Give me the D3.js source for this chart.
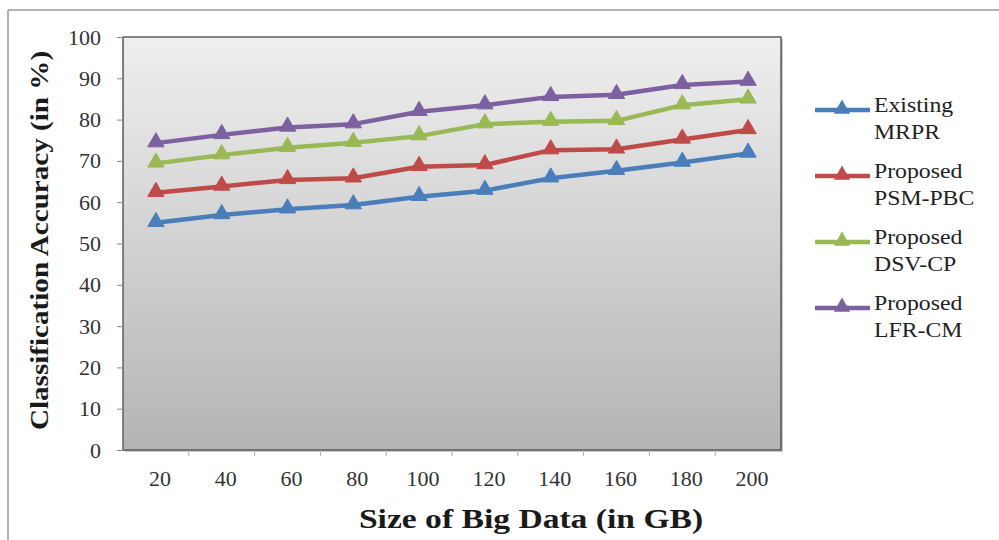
<!DOCTYPE html>
<html>
<head>
<meta charset="utf-8">
<script src="https://cdn.jsdelivr.net/npm/d3@7"></script>
<style>
  body { margin: 0; background: #fff; }
  text { font-family: "Liberation Serif", "Times New Roman", serif; }
</style>
</head>
<body>
<div id="chart"></div>
<script>
const sizes = ["20", "40", "60", "80", "100", "120", "140", "160", "180", "200"];
const yTicks = [0, 10, 20, 30, 40, 50, 60, 70, 80, 90, 100];

const existingMRPR = [55.0, 56.9, 58.3, 59.3, 61.3, 62.8, 65.8, 67.6, 69.6, 71.8];
const proposedPSMPBC = [62.3, 63.8, 65.4, 65.8, 68.6, 69.0, 72.6, 72.8, 75.2, 77.5];
const proposedDSVCP = [69.4, 71.4, 73.2, 74.4, 76.0, 78.9, 79.5, 79.7, 83.5, 84.9];
const proposedLFRCM = [74.3, 76.3, 78.1, 78.9, 81.9, 83.5, 85.5, 86.0, 88.4, 89.2];

const series = [
  { name: ["Existing", "MRPR"], values: existingMRPR, color: "#4a7ebb" },
  { name: ["Proposed", "PSM-PBC"], values: proposedPSMPBC, color: "#be4b48" },
  { name: ["Proposed", "DSV-CP"], values: proposedDSVCP, color: "#98b954" },
  { name: ["Proposed", "LFR-CM"], values: proposedLFRCM, color: "#7d60a0" },
];

const width = 999, height = 540;
const plot = { left: 123, top: 37, right: 781, bottom: 450 };

const svg = d3.select("#chart").append("svg").attr("width", width).attr("height", height);

// outer frame of the figure
svg.append("line").attr("x1", 8).attr("x2", width).attr("y1", 10).attr("y2", 10)
  .attr("stroke", "#9a9a9a").attr("stroke-width", 1.5);
svg.append("line").attr("x1", 8).attr("x2", 8).attr("y1", 10).attr("y2", height)
  .attr("stroke", "#9a9a9a").attr("stroke-width", 1.5);

const defs = svg.append("defs");
const grad = defs.append("linearGradient").attr("id", "bg").attr("x1", 0).attr("y1", 0).attr("x2", 0).attr("y2", 1);
grad.append("stop").attr("offset", "0%").attr("stop-color", "#efefef");
grad.append("stop").attr("offset", "100%").attr("stop-color", "#b4b4b4");

const x = d3.scaleBand().domain(sizes).range([plot.left, plot.right]);
const y = d3.scaleLinear().domain([0, 100]).range([plot.bottom, plot.top]);

// plot area with slight shadow
svg.append("rect")
  .attr("x", plot.left + 2).attr("y", plot.top + 2)
  .attr("width", plot.right - plot.left).attr("height", plot.bottom - plot.top)
  .attr("fill", "#c8c8c8");
svg.append("rect")
  .attr("x", plot.left).attr("y", plot.top)
  .attr("width", plot.right - plot.left).attr("height", plot.bottom - plot.top)
  .attr("fill", "url(#bg)").attr("stroke", "#3a3a3a").attr("stroke-width", 1.2);

// y axis
const yAxis = svg.append("g").attr("transform", `translate(${plot.left},0)`)
  .call(d3.axisLeft(y).tickValues(yTicks).tickSize(6).tickPadding(16));
yAxis.select(".domain").attr("stroke", "#777");
yAxis.selectAll(".tick line").attr("stroke", "#888");
yAxis.selectAll(".tick text").attr("font-size", 22).attr("fill", "#333")
  .style("font-family", "Liberation Serif, serif");

// x axis: ticks between categories
const xAxisG = svg.append("g").attr("transform", `translate(0,${plot.bottom})`);
xAxisG.append("line").attr("x1", plot.left).attr("x2", plot.right).attr("y1", 0).attr("y2", 0)
  .attr("stroke", "#777");
xAxisG.selectAll(".xt").data(sizes.slice(1)).join("line")
  .attr("x1", d => x(d)).attr("x2", d => x(d)).attr("y1", 0).attr("y2", 6)
  .attr("stroke", "#aaa");
xAxisG.selectAll(".xl").data(sizes).join("text")
  .attr("x", d => x(d) + x.bandwidth() / 2 + 4)
  .attr("y", 36)
  .attr("text-anchor", "middle")
  .attr("font-size", 22).attr("fill", "#333")
  .text(d => d);

// axis titles (source image is slightly stretched along the text)
svg.append("g")
  .attr("transform", `translate(48,${(plot.top + plot.bottom) / 2 - 3}) rotate(-90) scale(1.12,1)`)
  .append("text")
  .attr("text-anchor", "middle")
  .attr("font-size", 26).attr("font-weight", "bold").attr("fill", "#1a1a1a")
  .text("Classification Accuracy (in %)");
svg.append("g")
  .attr("transform", "translate(531,528) scale(1.2,1)")
  .append("text")
  .attr("text-anchor", "middle")
  .attr("font-size", 28).attr("font-weight", "bold").attr("fill", "#1a1a1a")
  .text("Size of Big Data (in GB)");

const cx = (i) => x(sizes[i]) + x.bandwidth() / 2;
const line = d3.line().x((d, i) => cx(i)).y(d => y(d));
const tri = d3.symbol().type(d3.symbolTriangle).size(115);

series.forEach(s => {
  const g = svg.append("g");
  g.append("path").datum(s.values).attr("d", line)
    .attr("fill", "none").attr("stroke", s.color).attr("stroke-width", 4.5)
    .attr("stroke-linejoin", "round");
  g.selectAll("path.m").data(s.values).join("path").attr("class", "m")
    .attr("d", tri)
    .attr("transform", (d, i) => `translate(${cx(i)},${y(d) - 1})`)
    .attr("fill", s.color).attr("stroke", s.color).attr("stroke-width", 1);
});

// legend
const legend = svg.append("g");
series.forEach((s, i) => {
  const ly = 110 + i * 66;
  legend.append("line").attr("x1", 815).attr("x2", 870).attr("y1", ly).attr("y2", ly)
    .attr("stroke", s.color).attr("stroke-width", 4.5);
  legend.append("path").attr("d", tri).attr("transform", `translate(842,${ly - 1})`)
    .attr("fill", s.color);
  s.name.forEach((t, j) => {
    legend.append("g")
      .attr("transform", `translate(874,${ly + 2 + j * 27}) scale(1.08,1)`)
      .append("text")
      .attr("font-size", 22).attr("fill", "#222").text(t);
  });
});
</script>
</body>
</html>
